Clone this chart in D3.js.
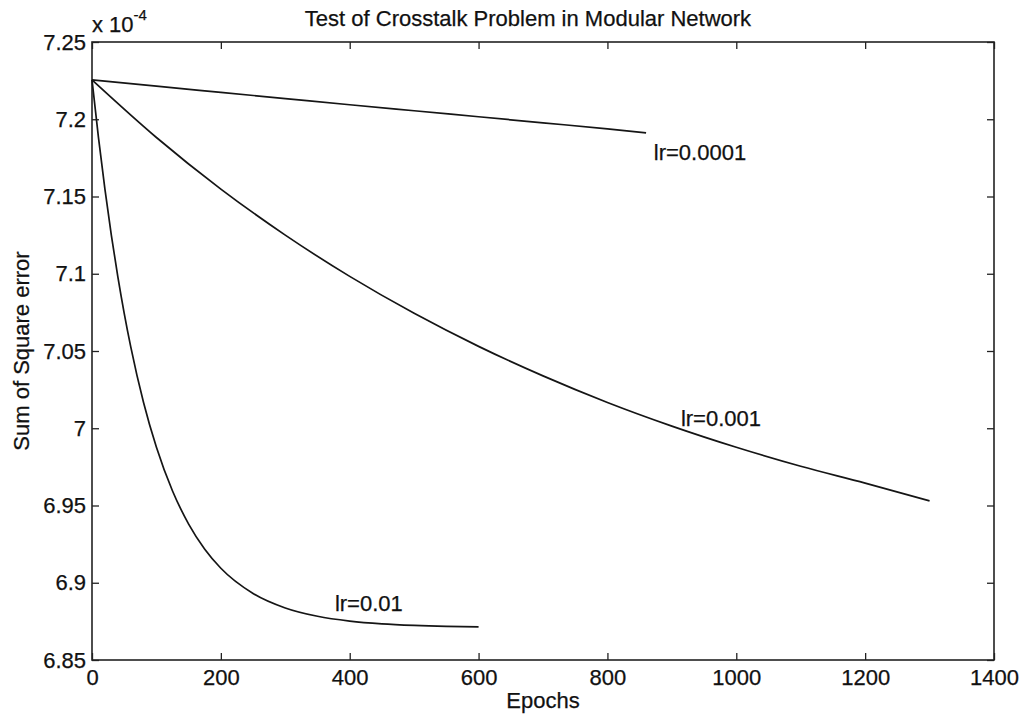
<!DOCTYPE html>
<html>
<head>
<meta charset="utf-8">
<script src="https://cdn.jsdelivr.net/npm/d3@7"></script>
<style>
  html, body { margin: 0; padding: 0; background: #fff; }
  svg { display: block; }
  text { font-family: "Liberation Sans", Arial, Helvetica, sans-serif; fill: #111; stroke: #111; stroke-width: 0.25px; }
</style>
</head>
<body>
<svg id="chart" width="1027" height="715"></svg>
<script>
// Sum of square error (x 10^-4) against training epochs, one series per learning rate
const epochs001 = [0, 10, 20, 30, 40, 50, 60, 80, 100, 125, 150, 175, 200, 250, 300, 350, 400, 450, 500, 550, 600];
const sse001 = [7.2255, 7.1883, 7.1549, 7.1250, 7.0983, 7.0744, 7.0530, 7.0167, 6.9877, 6.9594, 6.9380, 6.9217, 6.9094, 6.8931, 6.8837, 6.8783, 6.8752, 6.8734, 6.8724, 6.8718, 6.8715];

const epochs0001 = [0, 100, 200, 300, 400, 500, 600, 700, 800, 900, 1000, 1100, 1200, 1300];
const sse0001 = [7.2255, 7.1882, 7.1548, 7.1250, 7.0983, 7.0744, 7.0530, 7.0339, 7.0167, 7.0014, 6.9877, 6.9754, 6.9645, 6.9530];

const epochs00001 = [0, 100, 200, 300, 400, 500, 600, 700, 800, 860];
const sse00001 = [7.2255, 7.2214, 7.2174, 7.2134, 7.2094, 7.2055, 7.2016, 7.1977, 7.1938, 7.1912];

const seriesLabels = ["lr=0.01", "lr=0.001", "lr=0.0001"];
// label anchor (epoch, value) for each curve annotation
const labelEpochs = [377, 914, 872];
const labelValues = [6.8815, 7.0015, 7.1735];

const xTicks = [0, 200, 400, 600, 800, 1000, 1200, 1400];
const yTicks = [6.85, 6.9, 6.95, 7, 7.05, 7.1, 7.15, 7.2, 7.25];
const yTickLabels = ["6.85", "6.9", "6.95", "7", "7.05", "7.1", "7.15", "7.2", "7.25"];

const titleText = "Test of Crosstalk Problem in Modular Network";
const xLabel = "Epochs";
const yLabel = "Sum of Square error";

const svg = d3.select("#chart");
const m = { left: 92, right: 994, top: 42, bottom: 660 };

const x = d3.scaleLinear().domain([0, 1400]).range([m.left, m.right]);
const y = d3.scaleLinear().domain([6.85, 7.25]).range([m.bottom, m.top]);

const fs = 22;
const tickLen = 7;

// bottom and top axes (ticks point inward)
const gx = svg.append("g").attr("transform", `translate(0,${m.bottom})`)
  .call(d3.axisBottom(x).tickValues(xTicks).tickFormat(d3.format("d"))
    .tickSizeInner(-tickLen).tickSizeOuter(0).tickPadding(9));
const gxt = svg.append("g").attr("transform", `translate(0,${m.top})`)
  .call(d3.axisTop(x).tickValues(xTicks).tickFormat("")
    .tickSizeInner(-tickLen).tickSizeOuter(0));

// left and right axes
const gy = svg.append("g").attr("transform", `translate(${m.left},0)`)
  .call(d3.axisLeft(y).tickValues(yTicks).tickFormat((d, i) => yTickLabels[i])
    .tickSizeInner(-tickLen).tickSizeOuter(0).tickPadding(6));
const gyr = svg.append("g").attr("transform", `translate(${m.right},0)`)
  .call(d3.axisRight(y).tickValues(yTicks).tickFormat("")
    .tickSizeInner(-tickLen).tickSizeOuter(0));

[gx, gxt, gy, gyr].forEach(g => {
  g.select(".domain").remove();
  g.selectAll(".tick line").attr("stroke", "#222").attr("stroke-width", 1.3);
  g.selectAll(".tick text").attr("font-size", fs).attr("fill", "#111")
    .attr("font-family", "'Liberation Sans', Arial, sans-serif");
});

// axes box
svg.append("rect")
  .attr("x", m.left).attr("y", m.top)
  .attr("width", m.right - m.left).attr("height", m.bottom - m.top)
  .attr("fill", "none").attr("stroke", "#222").attr("stroke-width", 1.6);

// curves
const line = d3.line()
  .x(d => x(d[0])).y(d => y(d[1]))
  .curve(d3.curveMonotoneX);

const series = [
  d3.zip(epochs001, sse001),
  d3.zip(epochs0001, sse0001),
  d3.zip(epochs00001, sse00001)
];

svg.append("g").selectAll("path").data(series).join("path")
  .attr("d", line)
  .attr("fill", "none")
  .attr("stroke", "#151515")
  .attr("stroke-width", 1.7)
  .attr("stroke-linejoin", "round");

// curve annotations
svg.append("g").selectAll("text").data(seriesLabels).join("text")
  .attr("x", (d, i) => x(labelEpochs[i]))
  .attr("y", (d, i) => y(labelValues[i]))
  .attr("font-size", fs)
  .text(d => d);

// title
svg.append("text")
  .attr("x", 528).attr("y", 26)
  .attr("text-anchor", "middle")
  .attr("font-size", fs)
  .text(titleText);

// exponent marker
const expo = svg.append("text").attr("x", m.left).attr("y", 32).attr("font-size", fs);
expo.append("tspan").text("x 10");
expo.append("tspan").attr("font-size", 15).attr("dy", -12).text("-4");

// axis labels
svg.append("text")
  .attr("x", (m.left + m.right) / 2).attr("y", 708)
  .attr("text-anchor", "middle")
  .attr("font-size", fs)
  .text(xLabel);

svg.append("text")
  .attr("transform", `translate(29,${(m.top + m.bottom) / 2}) rotate(-90)`)
  .attr("text-anchor", "middle")
  .attr("font-size", fs)
  .text(yLabel);
</script>
</body>
</html>
